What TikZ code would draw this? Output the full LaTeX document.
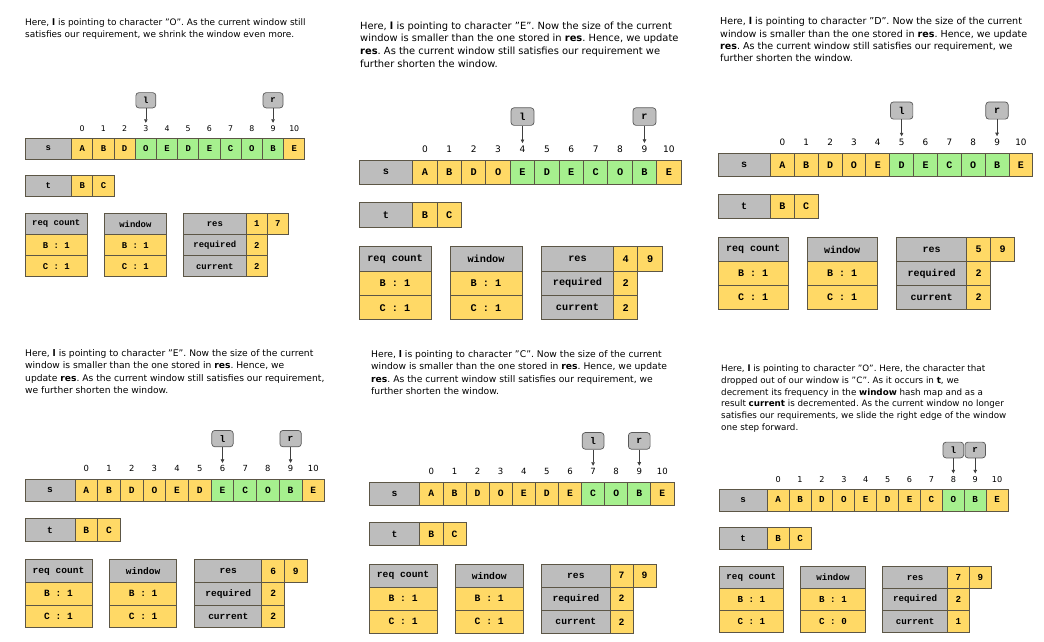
\documentclass[tikz,border=0pt]{standalone}
\usepackage{fontspec}
\setmainfont{DejaVu Sans}
\setmonofont{Liberation Mono}
\usetikzlibrary{arrows.meta}
\definecolor{cellgray}{HTML}{BDBDBD}
\definecolor{cellyellow}{HTML}{FFD966}
\definecolor{cellgreen}{HTML}{A6F08E}
\definecolor{celledge}{HTML}{5C5646}
\frenchspacing

\newcommand\cellfont{\fontsize{\cfs}{\cfs}\selectfont\ttfamily\bfseries}
\newcommand\idxfont{\fontsize{\ifs}{\ifs}\selectfont}

\tikzset{
	box/.style={draw=celledge, line width=0.8pt, inner sep=0pt, outer sep=0pt,
			minimum height=\cu pt, font=\cellfont},
	gbox/.style={box, fill=cellgray},
	ybox/.style={box, fill=cellyellow},
	nbox/.style={box, fill=cellgreen},
	wd/.style={minimum width=#1*\cu pt},
	idx/.style={font=\idxfont, inner sep=1pt},
	ptr/.style={draw=black!65, fill=cellgray, line width=0.7pt, rounded corners=3pt,
			minimum width=0.94*\cu pt, minimum height=0.72*\cu pt, inner sep=0pt, font=\cellfont},
	ptrline/.style={-{Triangle[length=3.5pt,width=3.5pt]}, draw=black!75, line width=0.6pt, shorten >=1.5pt},
	para/.style 2 args={anchor=north west, inner sep=0pt, align=left, font=\fontsize{#1}{#2}\selectfont}
}

% #1 name, #2 x, #3 y (top of s), #4 cell size, #5 l, #6 r, #7 #8 res, #9 current
\newcommand\panel[9]{%
	\pgfmathsetmacro\cu{#4}
	\pgfmathsetmacro\cfs{0.42*#4}
	\pgfmathsetmacro\ifs{0.37*#4}
	\pgfmathtruncatemacro\wc{#9-1}
	\begin{scope}[shift={(#2pt,-#3pt)}, x=#4pt, y=-#4pt]
		% string s with indices
		\node[gbox, wd=2.2] (#1-s) at (1.1,0.5) {s};
		\foreach \ch [count=\i from 0] in {A,B,D,O,E,D,E,C,O,B,E}{
			\ifnum\i<#5 \def\st{ybox}\else\ifnum\i>#6 \def\st{ybox}\else\def\st{nbox}\fi\fi
			\node[\st, wd=1] (#1-s\i) at (2.7+\i,0.5) {\ch};
			\node[idx] (#1-n\i) at (2.7+\i,-0.45) {\i};
		}

		% pointers
		\node[ptr] (#1-l) at (2.7+#5,-1.78) {l};
		\node[ptr] (#1-r) at (2.7+#6,-1.78) {r};
		\draw[ptrline] (#1-l) -- (#1-n#5);
		\draw[ptrline] (#1-r) -- (#1-n#6);

		% string t
		\node[gbox, wd=2.2] (#1-t) at (1.1,2.25) {t};
		\node[ybox, wd=1] (#1-t0) at (2.7,2.25) {B};
		\node[ybox, wd=1] (#1-t1) at (3.7,2.25) {C};

		% hash maps
		\node[gbox, wd=2.95] (#1-q) at (1.475,4.05) {req count};
		\node[ybox, wd=2.95] (#1-q1) at (1.475,5.05) {B : 1};
		\node[ybox, wd=2.95] (#1-q2) at (1.475,6.05) {C : 1};
		\node[gbox, wd=2.95] (#1-w) at (5.205,4.05) {window};
		\node[ybox, wd=2.95] (#1-w1) at (5.205,5.05) {B : 1};
		\node[ybox, wd=2.95] (#1-w2) at (5.205,6.05) {C : \wc};

		% result and counters
		\node[gbox, wd=2.95] (#1-res) at (8.955,4.05) {res};
		\node[gbox, wd=2.95] (#1-req) at (8.955,5.05) {required};
		\node[gbox, wd=2.95] (#1-cur) at (8.955,6.05) {current};
		\node[ybox, wd=1] (#1-res1) at (10.93,4.05) {#7};
		\node[ybox, wd=1] (#1-res2) at (11.93,4.05) {#8};
		\node[ybox, wd=1] (#1-req1) at (10.93,5.05) {2};
		\node[ybox, wd=1] (#1-cur1) at (10.93,6.05) {#9};
	\end{scope}}

\begin{document}
\begin{tikzpicture}
	\useasboundingbox (0,0) rectangle (1044pt,-641pt);

	% step 1
	\node[para={8.95}{11.5}] (txa) at (25pt,-18.7pt) {Here, \textbf{l} is pointing to character "O". As the current window still\\
		satisfies our requirement, we shrink the window even more.};
	\panel{a}{25}{138}{21.2}{3}{9}{1}{7}{2}

	% step 2
	\node[para={9.9}{12.7}] (txb) at (360pt,-21.3pt) {Here, \textbf{l} is pointing to character "E". Now the size of the current\\
		window is smaller than the one stored in \textbf{res}. Hence, we update\\
		\textbf{res}. As the current window still satisfies our requirement we\\
		further shorten the window.};
	\panel{b}{359}{160}{24.4}{4}{9}{4}{9}{2}

	% step 3
	\node[para={9.55}{12.3}] (txc) at (720pt,-17.5pt) {Here, \textbf{l} is pointing to character "D". Now the size of the current\\
		window is smaller than the one stored in \textbf{res}. Hence, we update\\
		\textbf{res}. As the current window still satisfies our requirement, we\\
		further shorten the window.};
	\panel{c}{718}{153}{23.85}{5}{9}{5}{9}{2}

	% step 4
	\node[para={9.15}{12.2}] (txd) at (25pt,-349.6pt) {Here, \textbf{l} is pointing to character "E". Now the size of the current\\
		window is smaller than the one stored in \textbf{res}. Hence, we\\
		update \textbf{res}. As the current window still satisfies our requirement,\\
		we further shorten the window.};
	\panel{d}{25}{479}{22.7}{6}{9}{6}{9}{2}

	% step 5
	\node[para={9.2}{12.2}] (txe) at (371pt,-350.6pt) {Here, \textbf{l} is pointing to character "C". Now the size of the current\\
		window is smaller than the one stored in \textbf{res}. Hence, we update\\
		\textbf{res}. As the current window still satisfies our requirement, we\\
		further shorten the window.};
	\panel{e}{369}{482}{23.1}{7}{9}{7}{9}{2}

	% step 6
	\node[para={8.75}{11.7}] (txf) at (721pt,-364.8pt) {Here, \textbf{l} is pointing to character "O". Here, the character that\\
		dropped out of our window is "C". As it occurs in \textbf{t}, we\\
		decrement its frequency in the \textbf{window} hash map and as a\\
		result \textbf{current} is decremented. As the current window no longer\\
		satisfies our requirements, we slide the right edge of the window\\
		one step forward.};
	\panel{f}{719}{489}{21.9}{8}{9}{7}{9}{1}
\end{tikzpicture}
\end{document}
